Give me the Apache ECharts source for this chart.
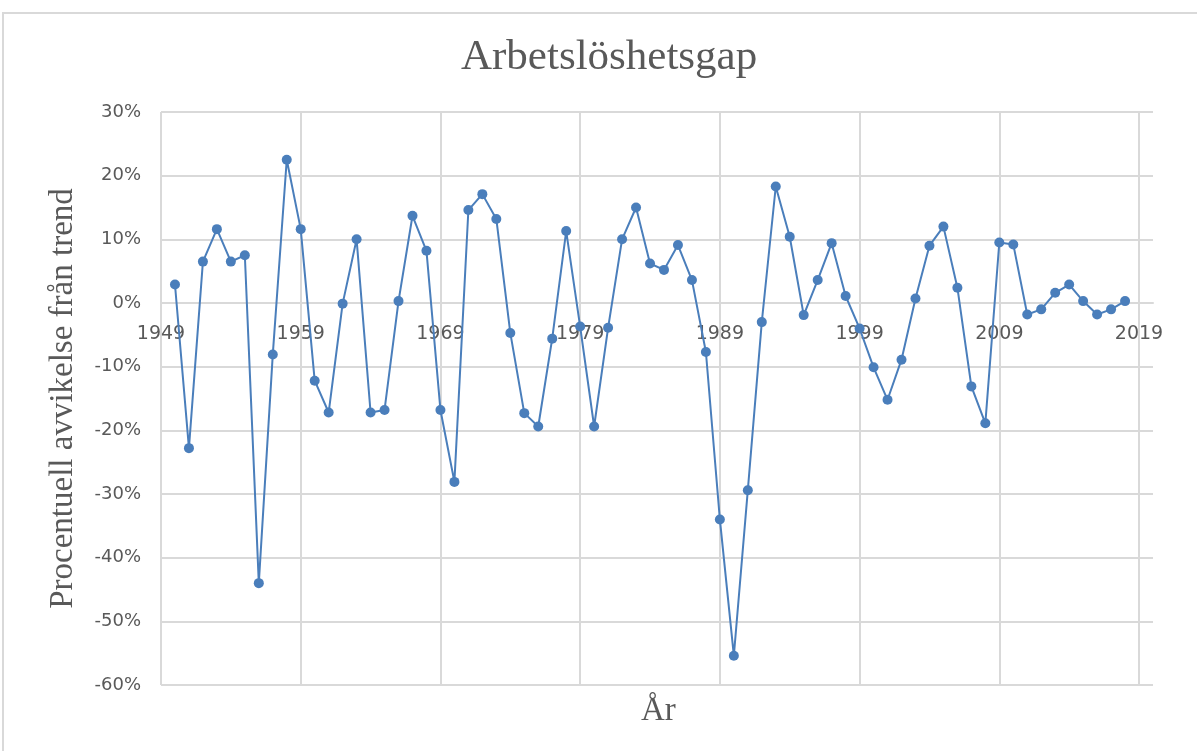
<!DOCTYPE html>
<html>
<head>
<meta charset="utf-8">
<script src="https://cdn.jsdelivr.net/npm/echarts@6/dist/echarts.min.js"></script>
<style>
html,body{margin:0;padding:0;background:#fff;}
#chart{width:1197px;height:751px;}
</style>
</head>
<body>
<div id="chart"></div>
<script>
// Axis categories (years on the horizontal axis, 1949..2020)
const axisYears = [];
for (let y = 1949; y <= 2020; y++) axisYears.push(String(y));
const xTickLabels = ['1949','1959','1969','1979','1989','1999','2009','2019'];
const yTicks = [30, 20, 10, 0, -10, -20, -30, -40, -50, -60];

// Data years and values (percent deviation from trend)
const years = [
  1950,1951,1952,1953,1954,1955,1956,1957,1958,1959,
  1960,1961,1962,1963,1964,1965,1966,1967,1968,1969,
  1970,1971,1972,1973,1974,1975,1976,1977,1978,1979,
  1980,1981,1982,1983,1984,1985,1986,1987,1988,1989,
  1990,1991,1992,1993,1994,1995,1996,1997,1998,1999,
  2000,2001,2002,2003,2004,2005,2006,2007,2008,2009,
  2010,2011,2012,2013,2014,2015,2016,2017,2018
];
const gap = [
  2.9,-22.8,6.5,11.6,6.5,7.5,-44.0,-8.1,22.5,11.6,
  -12.2,-17.2,-0.1,10.0,-17.2,-16.8,0.3,13.7,8.2,-16.8,
  -28.1,14.6,17.1,13.2,-4.7,-17.3,-19.4,-5.6,11.3,-3.7,
  -19.4,-3.9,10.0,15.0,6.2,5.2,9.1,3.6,-7.7,-34.0,
  -55.4,-29.4,-3.0,18.3,10.4,-1.9,3.6,9.4,1.1,-4.0,
  -10.1,-15.2,-8.9,0.7,9.0,12.0,2.4,-13.1,-18.9,9.5,
  9.2,-1.8,-1.0,1.6,2.9,0.3,-1.8,-1.0,0.3
];

const seriesData = years.map((y, i) => [String(y), gap[i]]);
const showTick = (idx, val) => xTickLabels.indexOf(String(val)) !== -1;

const yMin = yTicks[yTicks.length - 1], yMax = yTicks[0];
const gridTop = 112, gridBottom = 66, chartH = 751;
const plotH = chartH - gridTop - gridBottom;
// distance of the 0% line above the bottom of the plot (axis crosses at 0)
const zeroOffset = plotH * (0 - yMin) / (yMax - yMin);

const chart = echarts.init(document.getElementById('chart'), null, {renderer: 'canvas'});
chart.setOption({
  backgroundColor: '#ffffff',
  animation: false,
  title: {
    text: 'Arbetslöshetsgap',
    left: 456,
    top: 31,
    textStyle: {fontFamily: 'Liberation Serif', fontSize: 43, fontWeight: 'normal', color: '#595959'}
  },
  graphic: [
    {type: 'polyline', silent: true, shape: {points: [[3, 751], [3, 13], [1197, 13]]},
     style: {stroke: '#d9d9d9', lineWidth: 2, fill: null}},
    {type: 'text', silent: true, left: 641, top: 695,
     style: {text: 'År', font: '33px "Liberation Serif"', fill: '#595959'}}
  ],
  grid: {left: 161, right: 44, top: gridTop, bottom: gridBottom, containLabel: false},
  xAxis: {
    type: 'category',
    data: axisYears,
    boundaryGap: false,
    position: 'bottom',
    offset: -zeroOffset,
    axisLine: {show: true, onZero: false, lineStyle: {color: '#d9d9d9', width: 2}},
    axisTick: {show: false},
    axisLabel: {interval: showTick, color: '#595959', fontFamily: 'DejaVu Sans', fontSize: 19, margin: 22},
    splitLine: {show: true, interval: showTick, lineStyle: {color: '#d9d9d9', width: 2}}
  },
  yAxis: {
    type: 'value',
    min: yMin, max: yMax, interval: 10,
    name: 'Procentuell avvikelse från trend',
    nameLocation: 'middle',
    nameGap: 81,
    nameRotate: 90,
    nameTextStyle: {fontFamily: 'Liberation Serif', fontSize: 33, color: '#595959'},
    axisLine: {show: false},
    axisTick: {show: false},
    axisLabel: {formatter: '{value}%', color: '#595959', fontFamily: 'DejaVu Sans', fontSize: 18, margin: 20},
    splitLine: {show: true, lineStyle: {color: '#d9d9d9', width: 2}}
  },
  series: [{
    type: 'line',
    data: seriesData,
    symbol: 'circle',
    symbolSize: 10,
    showAllSymbol: true,
    z: 5,
    lineStyle: {color: '#4a7ebb', width: 2},
    itemStyle: {color: '#4a7ebb'}
  }]
});
</script>
</body>
</html>
